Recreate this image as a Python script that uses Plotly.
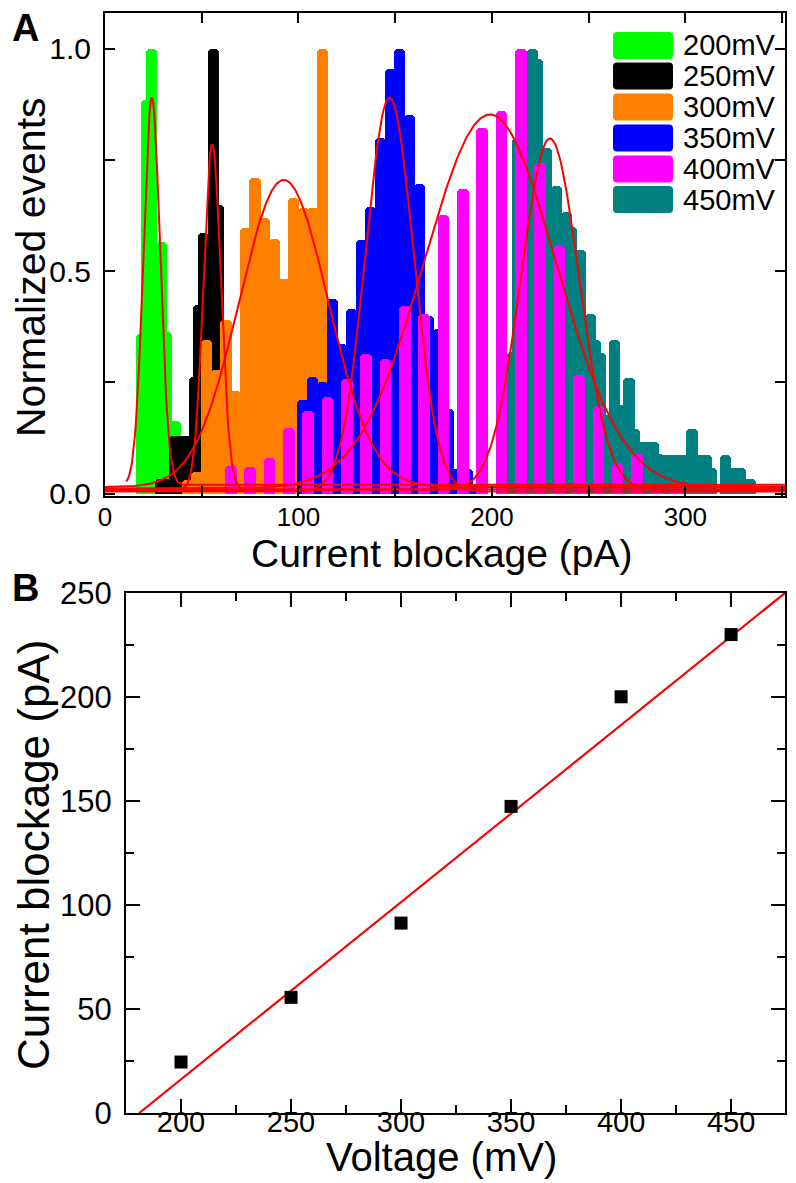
import numpy as np
import plotly.graph_objects as go

# page has an 8px body margin; the figure is sized to fit the 796x1183 window
PAGE_W, PAGE_H, OFF = 796, 1183, 8
W, H = PAGE_W - OFF, PAGE_H - OFF

# ---------------- Panel A: histogram data (Normalized events) ----------------
series_labels = ["200mV", "250mV", "300mV", "350mV", "400mV", "450mV"]
series_colors = ["#00FF00", "#000000", "#FF8000", "#0000FF", "#FF00FF", "#008080"]

green_x = [19.1, 21.6, 24.1, 26.6, 29.1, 31.6, 34.1, 36.6]
green_y = [0.36, 0.885, 1.0, 0.50, 0.565, 0.363, 0.12, 0.163]

black_x = [28.7, 31.2, 33.7, 36.2, 38.7, 41.1, 43.6, 46.1, 48.6, 51.1, 53.6, 56.1, 58.6, 61.1, 63.6]
black_y = [0.033, 0.033, 0.033, 0.13, 0.13, 0.13, 0.13, 0.262, 0.423, 0.585, 0.50, 1.0, 0.649, 0.30, 0.10]

orange_x = [42.5, 47.5, 52.5, 57.5, 62.5, 67.5, 72.5, 77.5, 82.5, 87.5, 92.5, 97.5, 102.5, 107.5, 112.5]
orange_y = [0.03, 0.05, 0.345, 0.277, 0.39, 0.232, 0.596, 0.709, 0.619, 0.572, 0.483, 0.664, 0.643, 0.643, 1.0]

blue_x = [102.4, 107.4, 112.4, 117.4, 122.4, 127.4, 132.4, 137.4, 142.4, 147.4,
          152.4, 157.4, 162.4, 167.4, 172.4, 177.4, 182.4, 187.4, 192.4]
blue_y = [0.21, 0.262, 0.25, 0.438, 0.337, 0.416, 0.570, 0.645, 0.80, 0.954,
          1.0, 0.851, 0.697, 0.40, 0.37, 0.19, 0.056, 0.056, 0.02]

magenta_x = [65, 75, 85, 95, 105, 115, 125, 135, 145, 155, 165, 175,
             185, 195, 205, 215, 225, 235, 245, 255, 265, 275, 285, 295]
magenta_y = [0.063, 0.06, 0.08, 0.148, 0.187, 0.217, 0.258, 0.315, 0.303, 0.422, 0.403, 0.626,
             0.685, 0.821, 0.859, 1.0, 0.742, 0.559, 0.266, 0.198, 0.07, 0.089, 0.01, 0.022]

teal_x = [208.4, 210.9, 213.4, 215.9, 218.4, 220.9, 223.4, 225.9, 228.4, 230.9,
          233.4, 235.9, 238.4, 240.9, 243.4, 245.9, 248.4, 250.9, 253.4, 255.9,
          258.4, 260.9, 263.4, 265.9, 268.4, 270.9, 273.4, 275.9, 278.4, 280.9,
          283.4, 285.9, 288.4, 290.9, 293.4, 295.9, 298.4, 300.9, 303.4, 305.9,
          308.4, 310.9, 313.4, 315.9, 318.4, 320.9, 323.4, 325.9, 328.4, 330.9, 333.4]
teal_y = [0.20, 0.318, 0.80, 0.85, 0.95, 1.0, 0.977, 0.75, 0.776, 0.68,
          0.691, 0.62, 0.634, 0.60, 0.547, 0.547, 0.40, 0.403, 0.346, 0.316,
          0.176, 0.15, 0.346, 0.20, 0.20, 0.26, 0.146, 0.117, 0.117, 0.117,
          0.117, 0.09, 0.088, 0.088, 0.088, 0.088, 0.088, 0.088, 0.146, 0.088,
          0.088, 0.088, 0.059, 0.0, 0.0, 0.088, 0.059, 0.059, 0.059, 0.033, 0.033]

# Gaussian fit parameters: 200,250,300,350,400,450 mV
fit_center = [24.2, 55.4, 92.4, 147.1, 199.0, 230.0]
fit_amp = [0.87, 0.775, 0.69, 0.885, 0.84, 0.79]
fit_sigma = [4.3, 4.5, 23.0, 12.4, 34.0, 15.0]
fit_base = [0.02, 0.01, 0.015, 0.005, 0.012, 0.008]
fit_start = [11, 0, 0, 0, 0, 0]

a_xtick_vals = [0, 50, 100, 150, 200, 250, 300, 350]
a_xtick_text = ["0", "", "100", "", "200", "", "300", ""]
a_ytick_vals = [0, 0.25, 0.5, 0.75, 1.0]
a_ytick_text = ["0.0", "", "0.5", "", "1.0"]

# ---------------- Panel B: current blockage vs voltage ----------------
voltage = [200, 250, 300, 350, 400, 450]
blockage = [24.5, 55.6, 91.3, 147.4, 200.1, 230.0]
linefit_x = [181.0, 474.5]
linefit_y = [0.0, 250.0]

FONT = "Liberation Sans, Arial, sans-serif"

fig = go.Figure()

draw_order = [
    (green_x, green_y, 0, 5.8),
    (black_x, black_y, 1, 5.8),
    (orange_x, orange_y, 2, 5.8),
    (blue_x, blue_y, 3, 5.8),
    (teal_x, teal_y, 5, 5.8),
    (magenta_x, magenta_y, 4, 6.0),
]
for xs, ys, idx, w in draw_order:
    fig.add_trace(go.Bar(
        x=xs, y=ys, width=w, name=series_labels[idx],
        marker=dict(color=series_colors[idx], line=dict(width=0), cornerradius=4),
        xaxis="x", yaxis="y", showlegend=False,
    ))

for c, a, s, b, st in zip(fit_center, fit_amp, fit_sigma, fit_base, fit_start):
    xs = np.linspace(st, 360, 700)
    ys = b + a * np.exp(-((xs - c) ** 2) / (2 * s ** 2))
    fig.add_trace(go.Scatter(x=xs, y=ys, mode="lines",
                             line=dict(color="#FF0000", width=2),
                             xaxis="x", yaxis="y", showlegend=False))

# Panel B traces
fig.add_trace(go.Scatter(x=linefit_x, y=linefit_y, mode="lines",
                         line=dict(color="#FF0000", width=2.2),
                         xaxis="x2", yaxis="y2", showlegend=False))
fig.add_trace(go.Scatter(x=voltage, y=blockage, mode="markers",
                         marker=dict(symbol="square", size=13, color="black"),
                         xaxis="x2", yaxis="y2", showlegend=False))


def fx(px):
    return (px - OFF) / W


def fy(py):
    return 1 - (py - OFF) / H


axis_common = dict(showline=True, linecolor="black", linewidth=2, mirror="allticks",
                   ticks="inside", tickcolor="black", tickwidth=2,
                   showgrid=False, zeroline=False, automargin=False)

fig.update_layout(
    width=W, height=H,
    margin=dict(l=0, r=0, t=0, b=0, autoexpand=False),
    paper_bgcolor="white", plot_bgcolor="white",
    barmode="overlay", bargap=0,
    font=dict(family=FONT, color="black"),
    xaxis=dict(domain=[fx(105), fx(785)], range=[0, 351.5], anchor="y",
               tickmode="array", tickvals=a_xtick_vals, ticktext=a_xtick_text,
               ticklen=10, tickfont=dict(size=26), ticklabelstandoff=-3, **axis_common),
    yaxis=dict(domain=[fy(496), fy(13)], range=[-0.005, 1.08], anchor="x",
               tickmode="array", tickvals=a_ytick_vals, ticktext=a_ytick_text,
               ticklen=10, tickfont=dict(size=30), ticklabelstandoff=6, **axis_common),
    xaxis2=dict(domain=[fx(126), fx(785)], range=[175, 474.5], anchor="y2",
                tickmode="linear", tick0=200, dtick=50, ticklen=14,
                minor=dict(dtick=25, ticklen=8, tickcolor="black", tickwidth=2, ticks="inside"),
                tickfont=dict(size=29), ticklabelstandoff=-18, **axis_common),
    yaxis2=dict(domain=[fy(1113), fy(593)], range=[0, 250], anchor="x2",
                tickmode="linear", tick0=0, dtick=50, ticklen=14,
                minor=dict(dtick=25, ticklen=8, tickcolor="black", tickwidth=2, ticks="inside"),
                tickfont=dict(size=31), ticklabelstandoff=6, **axis_common),
)

annotations = [
    dict(text="Current blockage (pA)", x=fx(442), y=fy(553), font=dict(size=39)),
    dict(text="Normalized events", x=fx(31), y=fy(267), textangle=-90, font=dict(size=41)),
    dict(text="Voltage (mV)", x=fx(441), y=fy(1181), font=dict(size=40), yanchor="bottom"),
    dict(text="Current blockage (pA)", x=fx(33), y=fy(855), textangle=-90, font=dict(size=44)),
    dict(text="<b>A</b>", x=fx(25), y=fy(28), font=dict(size=38)),
    dict(text="<b>B</b>", x=fx(25), y=fy(588), font=dict(size=38)),
]
for ann in annotations:
    ann.setdefault("yanchor", "middle")
    ann.update(xref="paper", yref="paper", showarrow=False, xanchor="center")

shapes = []
legend_rows = [45.5, 76, 107, 138, 169, 199.5]
for lab, col, ry in zip(series_labels, series_colors, legend_rows):
    x0, x1 = fx(613), fx(673)
    y0, y1 = fy(ry + 13.5), fy(ry - 13.5)
    rx, ryy = 4 / W, 4 / H
    path = (f"M {x0+rx},{y0} L {x1-rx},{y0} Q {x1},{y0} {x1},{y0+ryy} "
            f"L {x1},{y1-ryy} Q {x1},{y1} {x1-rx},{y1} L {x0+rx},{y1} "
            f"Q {x0},{y1} {x0},{y1-ryy} L {x0},{y0+ryy} Q {x0},{y0} {x0+rx},{y0} Z")
    shapes.append(dict(type="path", path=path, xref="paper", yref="paper",
                       fillcolor=col, line=dict(width=0), layer="above"))
    annotations.append(dict(text=lab, x=fx(681), y=fy(ry), xref="paper", yref="paper",
                            showarrow=False, xanchor="left", yanchor="middle",
                            font=dict(size=29)))

fig.update_layout(annotations=annotations, shapes=shapes)

fig.write_html("out.html")
